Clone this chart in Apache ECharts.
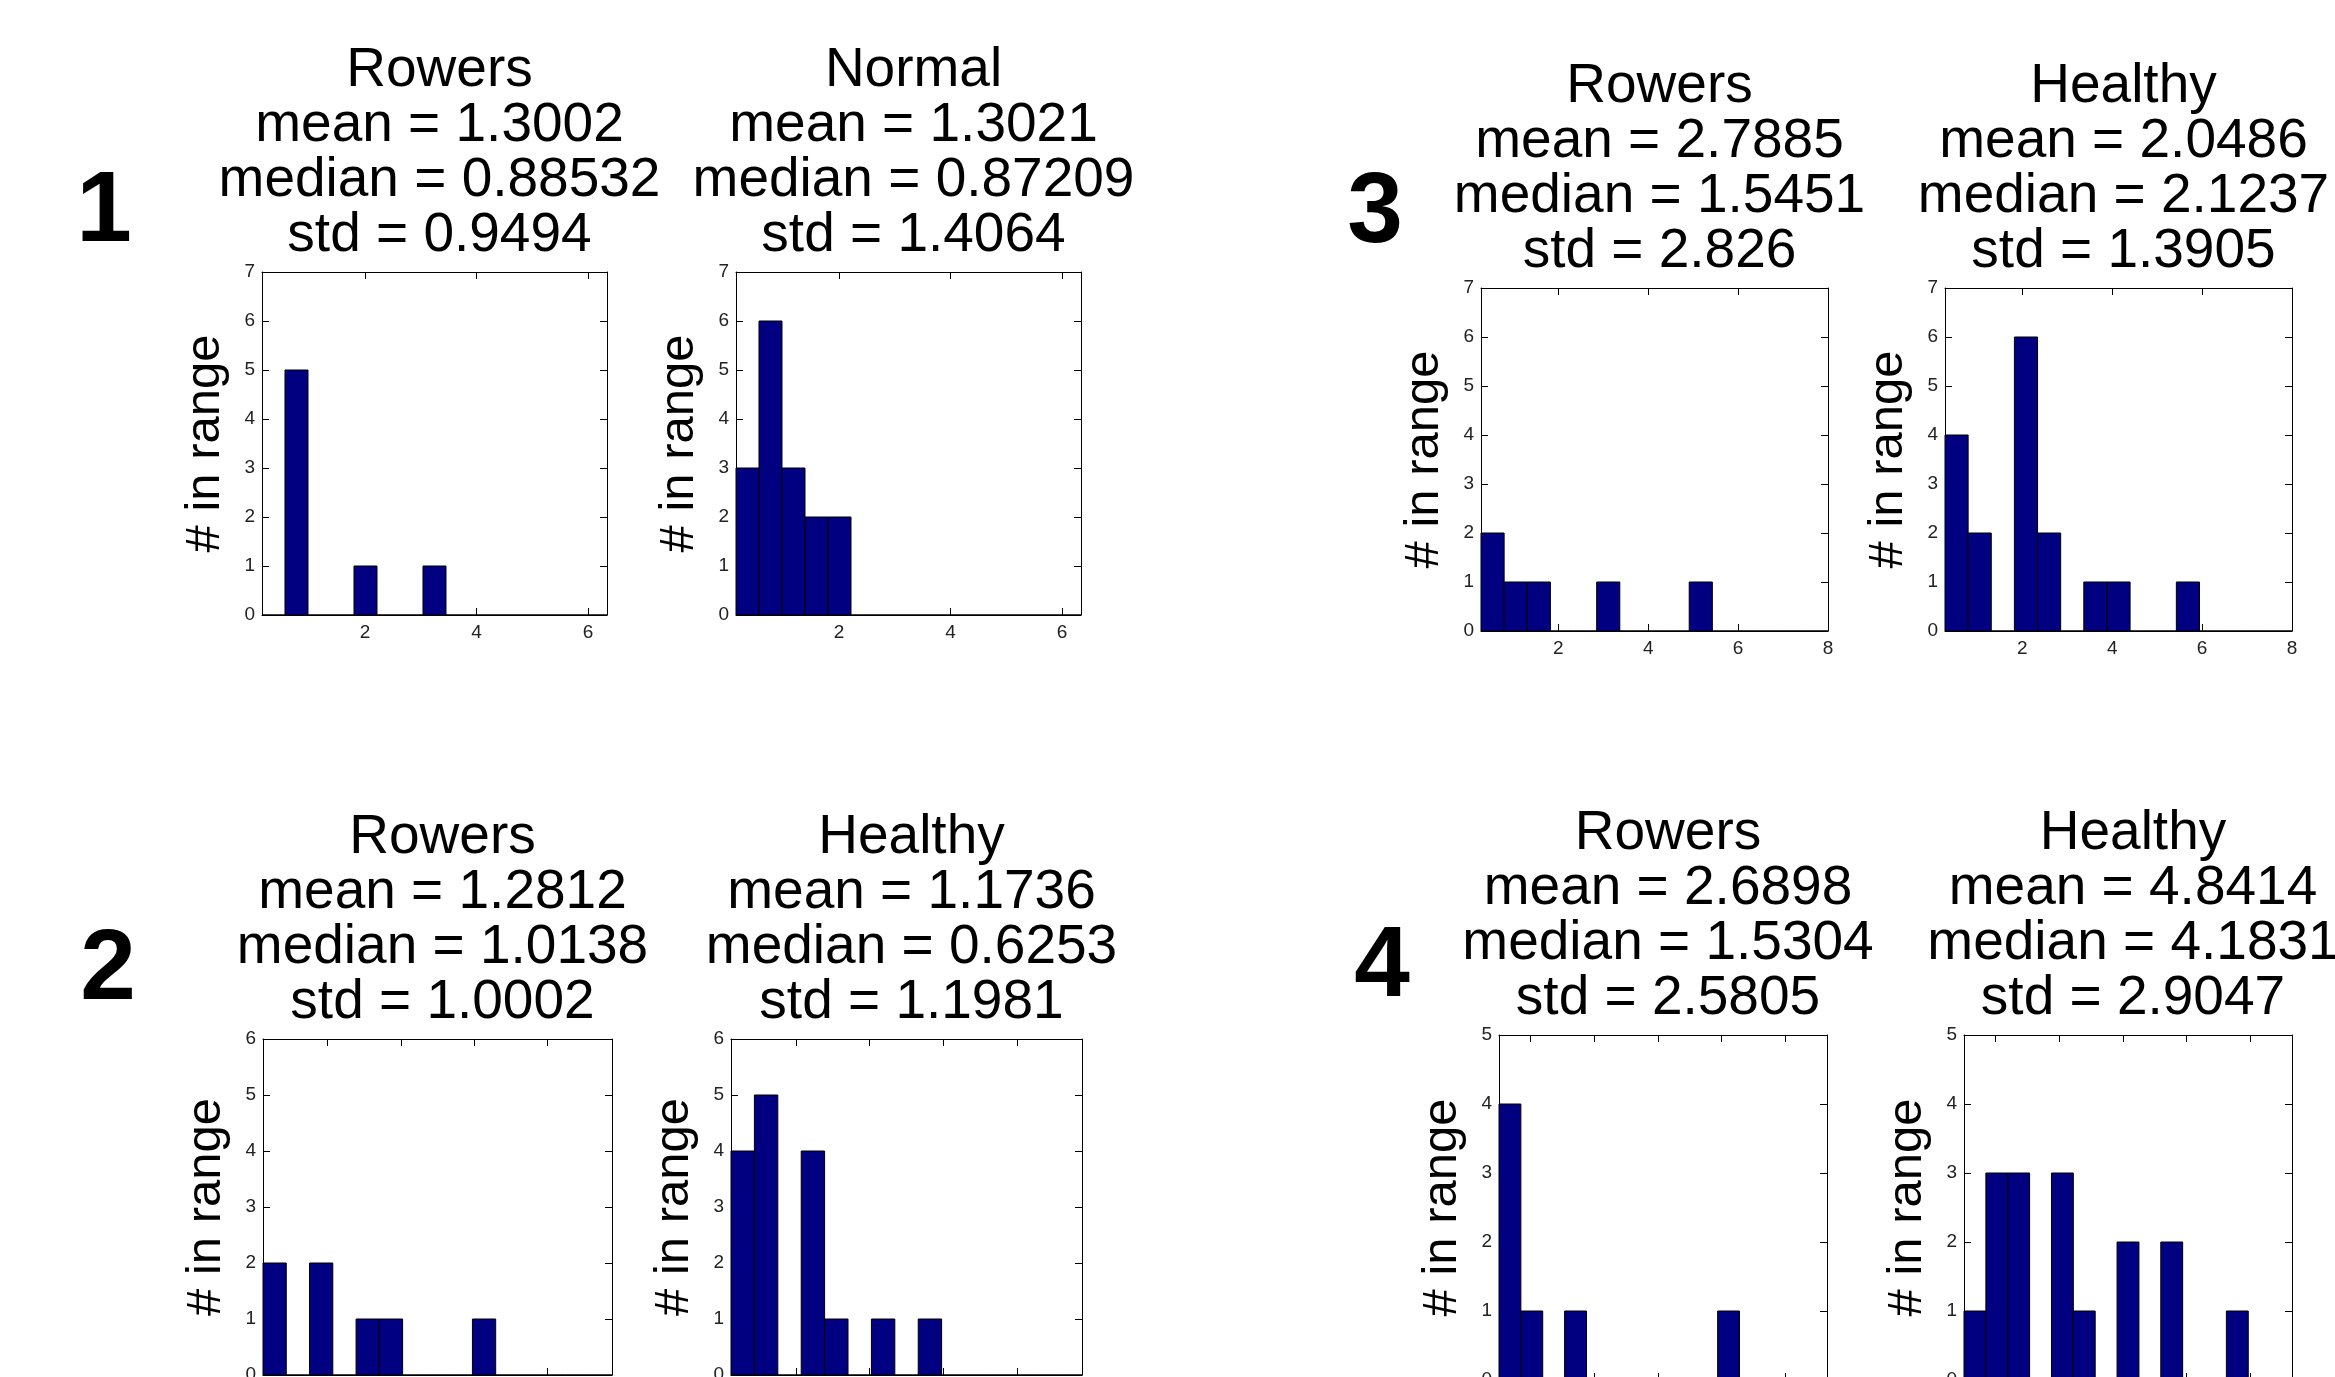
<!DOCTYPE html>
<html>
<head>
<meta charset="utf-8">
<script src="https://cdn.jsdelivr.net/npm/echarts@6/dist/echarts.min.js"></script>
<style>
  html, body { margin: 0; padding: 0; background: #fff; }
  #chart { width: 2335px; height: 1377px; }
</style>
</head>
<body>
<div id="chart"></div>
<script>
// group numbers, read clockwise as in the figure: 1 top-left, 3 top-right, 2 bottom-left, 4 bottom-right
var groupIds = ['1', '3', '2', '4'];

// histogram bins per group (15 equal bins): first edge and bin width
var binStart = [0.155, 0.28, 0.121, 1.02];
var binWidth = [0.4123, 0.5147, 0.3173, 0.6853];

// axis limits per group
var xMin = [0.155, 0.28, 0.121, 1.02];
var xMax = [6.34, 8.0, 4.88, 11.3];
var yMax = [7, 7, 6, 5];
var xTicks = [[2, 4, 6], [2, 4, 6, 8], [1, 2, 3, 4], [2, 4, 6, 8, 10]];

// panel titles: left panel / right panel of each group
var leftNames = ['Rowers', 'Rowers', 'Rowers', 'Rowers'];
var rightNames = ['Normal', 'Healthy', 'Healthy', 'Healthy'];
var leftMean = ['1.3002', '2.7885', '1.2812', '2.6898'];
var leftMedian = ['0.88532', '1.5451', '1.0138', '1.5304'];
var leftStd = ['0.9494', '2.826', '1.0002', '2.5805'];
var rightMean = ['1.3021', '2.0486', '1.1736', '4.8414'];
var rightMedian = ['0.87209', '2.1237', '0.6253', '4.1831'];
var rightStd = ['1.4064', '1.3905', '1.1981', '2.9047'];

// counts in each of the 15 bins
var leftCounts = [
  [0, 5, 0, 0, 1, 0, 0, 1, 0, 0, 0, 0, 0, 0, 0],
  [2, 1, 1, 0, 0, 1, 0, 0, 0, 1, 0, 0, 0, 0, 0],
  [2, 0, 2, 0, 1, 1, 0, 0, 0, 1, 0, 0, 0, 0, 0],
  [4, 1, 0, 1, 0, 0, 0, 0, 0, 0, 1, 0, 0, 0, 0]
];
var rightCounts = [
  [3, 6, 3, 2, 2, 0, 0, 0, 0, 0, 0, 0, 0, 0, 0],
  [4, 2, 0, 6, 2, 0, 1, 1, 0, 0, 1, 0, 0, 0, 0],
  [4, 5, 0, 4, 1, 0, 1, 0, 1, 0, 0, 0, 0, 0, 0],
  [1, 3, 3, 0, 3, 1, 0, 2, 0, 2, 0, 0, 1, 0, 0]
];

// layout: axes boxes [left, top, width, height] for left and right panel of each group
var leftBoxes = [[262, 272, 345, 343], [1481, 288, 347, 343], [263, 1039, 349, 336], [1499, 1035, 328, 345]];
var rightBoxes = [[736, 272, 345, 343], [1945, 288, 347, 343], [731, 1039, 351, 336], [1964, 1035, 328, 345]];
var groupIdPos = [[99, 208], [1370, 209], [103, 966], [1377, 963]];

var FONT = 'Liberation Sans, Arial, sans-serif';
var BAR = '#000080';

var grids = [], xAxes = [], yAxes = [], series = [], titles = [];

function addPanel(box, g, counts, name, mean, median, std) {
  var gi = grids.length;
  grids.push({ left: box[0], top: box[1], width: box[2], height: box[3], containLabel: false, outerBoundsMode: 'none' });

  var tickStyle = { show: true, inside: true, length: 7, lineStyle: { color: '#000', width: 1 } };
  xAxes.push({
    gridIndex: gi, type: 'value', position: 'bottom', min: xMin[g], max: xMax[g],
    axisLine: { show: true, onZero: false, lineStyle: { color: '#000', width: 1 } },
    axisTick: Object.assign({ customValues: xTicks[g] }, tickStyle),
    axisLabel: { customValues: xTicks[g], color: '#222', fontFamily: FONT, fontSize: 19, margin: 8 },
    splitLine: { show: false }
  });
  xAxes.push({
    gridIndex: gi, type: 'value', position: 'top', min: xMin[g], max: xMax[g],
    axisLine: { show: true, onZero: false, lineStyle: { color: '#000', width: 1 } },
    axisTick: Object.assign({ customValues: xTicks[g] }, tickStyle),
    axisLabel: { show: false }, splitLine: { show: false }
  });
  yAxes.push({
    gridIndex: gi, type: 'value', position: 'left', min: 0, max: yMax[g], interval: 1,
    axisLine: { show: true, onZero: false, lineStyle: { color: '#000', width: 1 } },
    axisTick: tickStyle,
    axisLabel: { color: '#222', fontFamily: FONT, fontSize: 19, margin: 7 },
    splitLine: { show: false },
    name: '# in range', nameLocation: 'middle', nameGap: 32,
    nameTextStyle: { color: '#000', fontFamily: FONT, fontSize: 49 }
  });
  yAxes.push({
    gridIndex: gi, type: 'value', position: 'right', min: 0, max: yMax[g], interval: 1,
    axisLine: { show: true, onZero: false, lineStyle: { color: '#000', width: 1 } },
    axisTick: tickStyle, axisLabel: { show: false }, splitLine: { show: false }
  });

  var data = counts.map(function (c, i) {
    var a = binStart[g] + i * binWidth[g];
    return [a, a + binWidth[g], c];
  });
  series.push({
    type: 'custom',
    xAxisIndex: gi * 2, yAxisIndex: gi * 2,
    data: data,
    renderItem: function (params, api) {
      var p0 = api.coord([api.value(0), api.value(2)]);
      var p1 = api.coord([api.value(1), 0]);
      return {
        type: 'rect',
        shape: { x: p0[0], y: p0[1], width: p1[0] - p0[0], height: p1[1] - p0[1] },
        style: { fill: BAR, stroke: '#000', lineWidth: 1 }
      };
    }
  });

  titles.push({
    text: name + '\nmean = ' + mean + '\nmedian = ' + median + '\nstd = ' + std,
    left: box[0] + box[2] / 2, top: box[1] - 234, textAlign: 'center',
    textStyle: { fontFamily: FONT, fontSize: 55, fontWeight: 'normal', color: '#000', lineHeight: 55 }
  });
}

for (var g = 0; g < 4; g++) {
  addPanel(leftBoxes[g], g, leftCounts[g], leftNames[g], leftMean[g], leftMedian[g], leftStd[g]);
  addPanel(rightBoxes[g], g, rightCounts[g], rightNames[g], rightMean[g], rightMedian[g], rightStd[g]);
  titles.push({
    text: groupIds[g], left: groupIdPos[g][0], top: groupIdPos[g][1] - 50, textAlign: 'center',
    textStyle: { fontFamily: FONT, fontSize: 100, fontWeight: 'bold', color: '#000', lineHeight: 100 }
  });
}

var chart = echarts.init(document.getElementById('chart'));
chart.setOption({
  animation: false,
  backgroundColor: '#fff',
  title: titles,
  grid: grids,
  xAxis: xAxes,
  yAxis: yAxes,
  series: series
});
</script>
</body>
</html>
